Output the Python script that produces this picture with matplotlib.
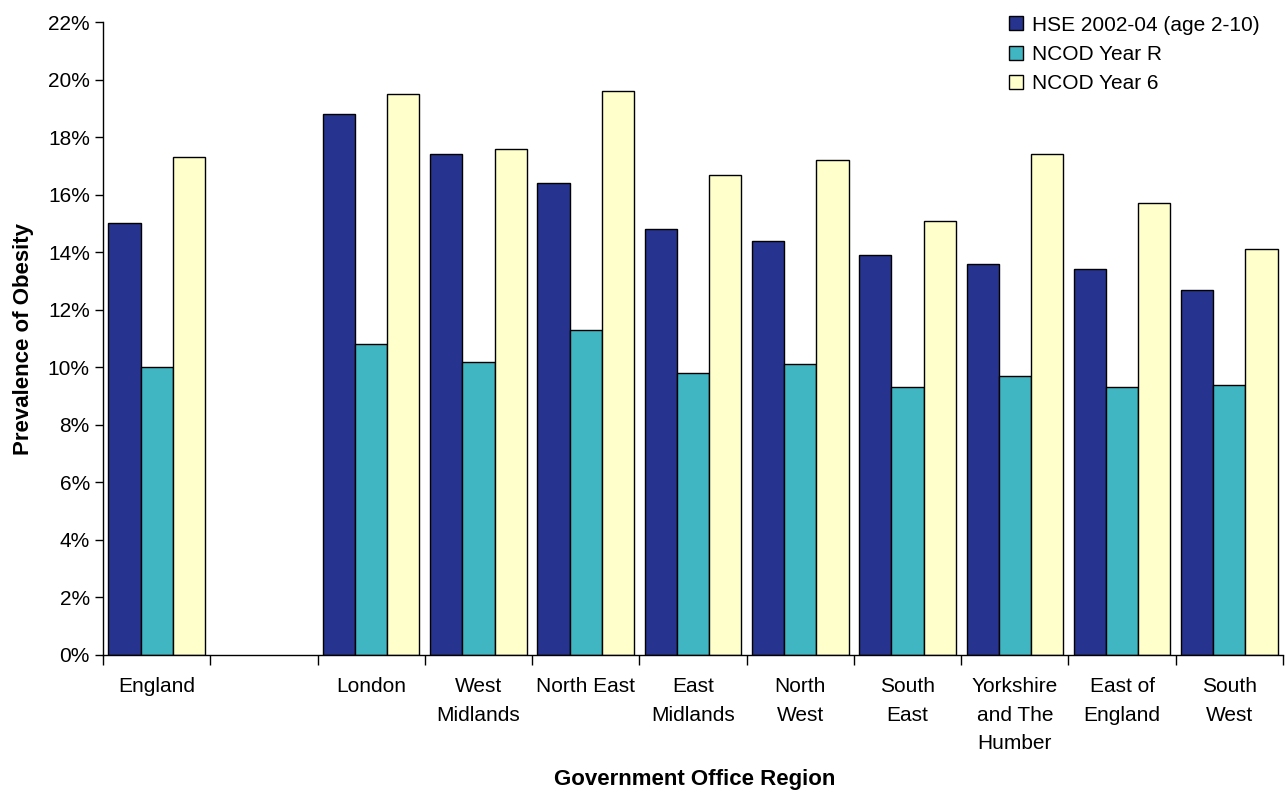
import numpy as np
import matplotlib
matplotlib.use("Agg")
import matplotlib.pyplot as plt
from matplotlib.ticker import PercentFormatter, FixedLocator

plt.rcParams['font.family'] = ['Liberation Sans', 'DejaVu Sans']

# Regions (blank slot separates England from the regions)
regions = ["England", "", "London", "West\nMidlands", "North East", "East\nMidlands",
           "North\nWest", "South\nEast", "Yorkshire\nand The\nHumber", "East of\nEngland",
           "South\nWest"]
hse = [15.0, np.nan, 18.8, 17.4, 16.4, 14.8, 14.4, 13.9, 13.6, 13.4, 12.7]
year_r = [10.0, np.nan, 10.8, 10.2, 11.3, 9.8, 10.1, 9.3, 9.7, 9.3, 9.4]
year_6 = [17.3, np.nan, 19.5, 17.6, 19.6, 16.7, 17.2, 15.1, 17.4, 15.7, 14.1]

series = [("HSE 2002-04 (age 2-10)", hse, "#26338f"),
          ("NCOD Year R", year_r, "#40b6c2"),
          ("NCOD Year 6", year_6, "#ffffcc")]

fig = plt.figure(figsize=(12.86, 7.92), dpi=100)
ax = fig.add_axes([0.0801, 0.173, 0.9176, 0.7992])

x = np.arange(len(regions))
width = 0.3
for i, (name, vals, col) in enumerate(series):
    ax.bar(x + (i - 1) * width, np.array(vals) / 100, width, color=col,
           edgecolor="black", linewidth=1, label=name)

ax.set_xlim(-0.5, len(regions) - 0.5)
ax.set_ylim(0, 0.22)
ax.set_yticks(np.arange(0, 0.2201, 0.02))
ax.yaxis.set_major_formatter(PercentFormatter(1.0, decimals=0))

# category labels centred, tick marks on the boundaries
ax.set_xticks(x)
ax.set_xticklabels(regions, fontsize=15, linespacing=1.62)
ax.tick_params(axis="x", length=0, pad=16)
ax.xaxis.set_minor_locator(FixedLocator(np.arange(-0.5, len(regions), 1.0)))
ax.tick_params(axis="x", which="minor", length=7, width=1, direction="out")
ax.tick_params(axis="y", labelsize=15, length=6, width=1, direction="out")

for s in ["top", "right"]:
    ax.spines[s].set_visible(False)
ax.spines["left"].set_linewidth(1)
ax.spines["bottom"].set_linewidth(1)

ax.set_ylabel("Prevalence of Obesity", fontsize=16, fontweight="bold", labelpad=10)
fig.text(695 / 1286, 1 - 780 / 792, "Government Office Region", fontsize=16,
         fontweight="bold", ha="center", va="center")

ax.legend(loc="upper right", bbox_to_anchor=(0.991, 1.03), frameon=False, fontsize=15,
          handlelength=0.65, handleheight=0.65, handletextpad=0.45, labelspacing=0.5,
          borderaxespad=0.2)

fig.savefig("out.png", dpi=100)
